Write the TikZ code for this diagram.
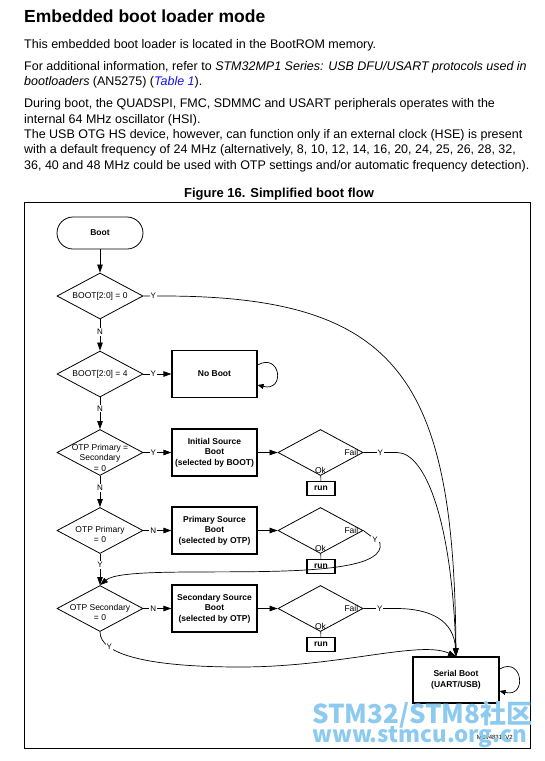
\documentclass[tikz,border=0pt]{standalone}
\usepackage{fontspec}
\setmainfont{Liberation Sans}
\newfontfamily\cjk{Noto Sans CJK SC}
\usetikzlibrary{shapes.geometric,arrows.meta}
\definecolor{linkblue}{RGB}{20,20,240}
\definecolor{wmblue}{RGB}{140,202,240}

\tikzset{
  bodyline/.style={anchor=base west,inner sep=0pt,font=\fontsize{12.5}{15}\selectfont},
  procbox/.style={draw,line width=1.2pt,minimum width=85pt,minimum height=47pt,inner sep=0pt,align=center,font=\fontsize{8.5}{10.5}\selectfont\bfseries},
  termbox/.style={draw,line width=0.8pt,rounded corners=16pt,minimum width=86pt,minimum height=32pt,inner sep=0pt,font=\fontsize{8.5}{10.5}\selectfont\bfseries},
  decision/.style={diamond,draw,line width=0.8pt,minimum width=86pt,minimum height=46pt,inner sep=0pt},
  dtext/.style={align=center,inner sep=0pt,font=\fontsize{8.5}{10.5}\selectfont},
  runbox/.style={draw,line width=1.2pt,minimum width=28pt,minimum height=14pt,inner sep=0pt,font=\fontsize{8.5}{10}\selectfont\bfseries},
  yn/.style={fill=white,inner sep=1pt,font=\fontsize{8}{9}\selectfont},
  wmark/.style={anchor=base west,inner sep=0pt,text=wmblue},
  flow/.style={line width=0.7pt,-{Triangle[length=8pt,width=5.5pt]}},
  loopflow/.style={line width=0.7pt,-{Triangle[length=6pt,width=5pt]}},
}

\begin{document}
\begin{tikzpicture}[x=1pt,y=1pt]
\useasboundingbox (0,0) rectangle (544,-761);

% page text
\node[anchor=base west,inner sep=0pt,font=\fontsize{17.5}{20}\selectfont\bfseries] (title) at (24,-22) {Embedded boot loader mode};
\node[bodyline] (l1) at (24,-48.5) {This embedded boot loader is located in the BootROM memory.};
\node[bodyline] (l2) at (24,-70.5) {For additional information, refer to \textit{STM32MP1 Series: USB DFU/USART protocols used in}};
\node[bodyline] (l3) at (24,-85.8) {\textit{bootloaders} (AN5275) (\textcolor{linkblue}{\textit{Table 1}}).};
\node[bodyline] (l4) at (24,-107.8) {During boot, the QUADSPI, FMC, SDMMC and USART peripherals operates with the};
\node[bodyline] (l5) at (24,-123.1) {internal 64 MHz oscillator (HSI).};
\node[bodyline] (l6) at (24,-138.4) {The USB OTG HS device, however, can function only if an external clock (HSE) is present};
\node[bodyline] (l7) at (24,-153.7) {with a default frequency of 24 MHz (alternatively, 8, 10, 12, 14, 16, 20, 24, 25, 26, 28, 32,};
\node[bodyline] (l8) at (24,-169) {36, 40 and 48 MHz could be used with OTP settings and/or automatic frequency detection).};
\node[anchor=base,inner sep=0pt,font=\fontsize{13}{15}\selectfont\bfseries] (caption) at (279,-197.5) {Figure 16. Simplified boot flow};

% frame
\draw[line width=0.9pt] (24,-202.5) rectangle (530,-748);

% left column
\node[termbox] (boot) at (100,-233) {Boot};
\node[decision] (d1) at (100,-296) {};
\node[decision] (d2) at (100,-374) {};
\node[decision] (d3) at (100,-452.5) {};
\node[decision] (d4) at (100,-530.5) {};
\node[decision] (d5) at (100,-608.5) {};
\node[dtext] (t1) at (d1) {BOOT[2:0] = 0};
\node[dtext] (t2) at (d2) {BOOT[2:0] = 4};
\node[dtext] (t3) at ([yshift=-5pt]d3.center) {OTP Primary =\\Secondary\\= 0};
\node[dtext] (t4) at ([yshift=-4pt]d4.center) {OTP Primary\\= 0};
\node[dtext] (t5) at ([yshift=-4pt]d5.center) {OTP Secondary\\= 0};

% boot sources
\node[procbox] (noboot) at (214.5,-374) {No Boot};
\node[procbox] (isb) at (214.5,-452.5) {Initial Source\\Boot\\(selected by BOOT)};
\node[procbox] (psb) at (214.5,-530.5) {Primary Source\\Boot\\(selected by OTP)};
\node[procbox] (ssb) at (214.5,-608.5) {Secondary Source\\Boot\\(selected by OTP)};

% checks
\node[decision,minimum width=85pt] (c1) at (320.5,-452.5) {};
\node[decision,minimum width=85pt] (c2) at (320.5,-530.5) {};
\node[decision,minimum width=85pt] (c3) at (320.5,-608.5) {};
\node[dtext,anchor=east] (f1) at ([xshift=-5pt]c1.east) {Fail};
\node[dtext,anchor=east] (f2) at ([xshift=-5pt]c2.east) {Fail};
\node[dtext,anchor=east] (f3) at ([xshift=-5pt]c3.east) {Fail};
\node[dtext,anchor=south] (o1) at ([yshift=2pt]c1.south) {Ok};
\node[dtext,anchor=south] (o2) at ([yshift=2pt]c2.south) {Ok};
\node[dtext,anchor=south] (o3) at ([yshift=2pt]c3.south) {Ok};
\node[runbox] (r1) at (321,-488.5) {run};
\node[runbox] (r2) at (321,-566.5) {run};
\node[runbox] (r3) at (321,-644.5) {run};

\node[procbox,minimum width=86pt,minimum height=46pt] (serial) at (456,-680) {Serial Boot\\(UART/USB)};

\begin{scope}[every edge/.style={draw,line width=0.7pt,-{Triangle[length=8pt,width=5.5pt]}}]
  \path (boot) edge (d1);
  \path (d1) edge node[yn,pos=0.4] {N} (d2);
  \path (d2) edge node[yn,pos=0.35] {N} (d3);
  \path (d3) edge node[yn,pos=0.38] {N} (d4);
  \path (d4) edge node[yn,pos=0.35] {Y} (d5);
  \path (d2.east) edge node[yn,pos=0.35] {Y} (noboot.west);
  \path (d3.east) edge node[yn,pos=0.35] {Y} (isb.west);
  \path (d4.east) edge node[yn,pos=0.35] {N} (psb.west);
  \path (d5.east) edge node[yn,pos=0.35] {N} (ssb.west);
  \path (isb) edge (c1);
  \path (psb) edge (c2);
  \path (ssb) edge (c3);
  \path (c1) edge[-] (r1);
  \path (c2) edge[-] (r2);
  \path (c3) edge[-] (r3);
\end{scope}

% fallbacks to serial boot
\coordinate (y1) at (163,-296);
\coordinate (y2) at (397,-452.5);
\coordinate (y3) at (380,-543);
\coordinate (y4) at (396,-608.5);
\coordinate (bend) at (240,-667);
\draw[flow] (d1.east) -- node[yn] {Y} (y1) .. controls (400,-296) and (454,-380) .. (serial.north);
\draw[flow] (c1.east) -- node[yn] {Y} (y2) .. controls (425,-452.5) and (452,-520) .. (serial.north);
\draw[flow] (c2.east) -- node[yn,pos=0.7] {Y} (y3) .. controls (390,-590) and (130,-560) .. (d5.north);
\draw[flow] (c3.east) -- node[yn] {Y} (y4) .. controls (430,-608.5) and (454,-620) .. (serial.north);
\draw[flow] (d5.south) .. controls (100,-655) and (150,-667) .. node[yn,pos=0.25] {Y} (bend) .. controls (340,-667) and (420,-640) .. (serial.north);

% loops
\draw[loopflow] ([yshift=9pt]noboot.east) .. controls ++(23,13) and ++(28,-7) .. ([yshift=-11pt]noboot.east);
\draw[loopflow] ([yshift=11pt]serial.east) .. controls ++(23,13) and ++(28,-7) .. ([yshift=-11pt]serial.east);

\node[anchor=east,inner sep=0pt,font=\fontsize{6}{7}\selectfont] (docref) at (513,-737) {MSv48316V2};

% watermark
\node[wmark,font=\cjk\bfseries\fontsize{26}{28}\selectfont] (wm1) at (312,-723) {STM32/STM8社区};
\node[wmark,font=\cjk\bfseries\fontsize{22.3}{26}\selectfont] (wm2) at (312,-742) {www.stmcu.org.cn};
\end{tikzpicture}
\end{document}
